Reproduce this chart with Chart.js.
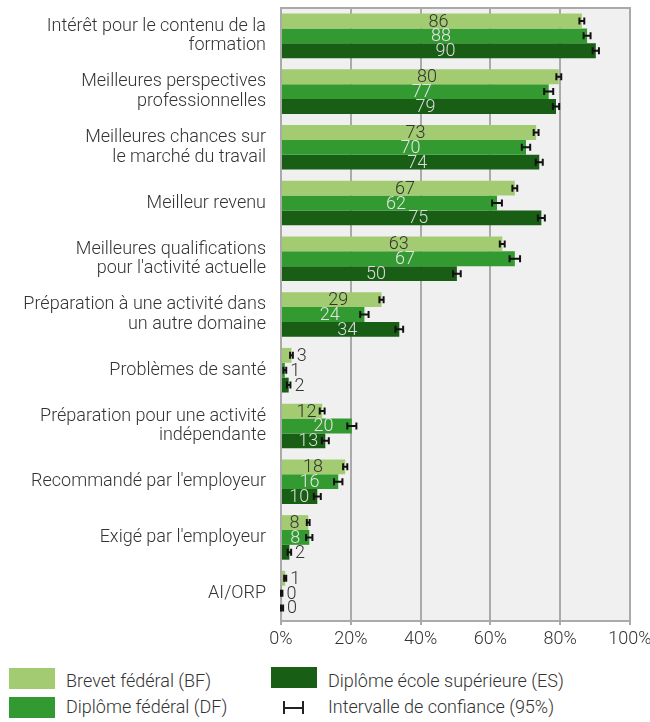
<!DOCTYPE html>
<html>
<head>
<meta charset="utf-8">
<script src="https://cdn.jsdelivr.net/npm/chart.js@4"></script>
<style>
  html, body { margin: 0; padding: 0; background: #fff; }
  #wrap { position: relative; width: 650px; height: 722px; font-family: Roboto, "Noto Sans", sans-serif; font-weight: 300; color: #333; }
  canvas { position: absolute; left: 0; top: 0; }
  .sw { position: absolute; width: 46px; height: 21px; }
  .lt { position: absolute; font-size: 18px; line-height: 21px; white-space: nowrap; }
  .ci { position: absolute; width: 21px; height: 13px; }
  .ci .h { position: absolute; left: 0; right: 0; top: 6px; height: 2px; background: #222; }
  .ci .l, .ci .r { position: absolute; top: 0; width: 2px; height: 13px; background: #222; }
  .ci .l { left: 0; } .ci .r { right: 0; }
</style>
</head>
<body>
<div id="wrap">
  <canvas id="c" width="650" height="660"></canvas>
  <div class="sw" style="left:9px;top:668px;background:#a3cb71"></div>
  <div class="lt" style="left:66px;top:670px">Brevet fédéral (BF)</div>
  <div class="sw" style="left:9px;top:697px;background:#339a32"></div>
  <div class="lt" style="left:66px;top:696px">Diplôme fédéral (DF)</div>
  <div class="sw" style="left:271px;top:667px;background:#185e15"></div>
  <div class="lt" style="left:328px;top:670px">Diplôme école supérieure (ES)</div>
  <div class="ci" style="left:283px;top:701px"><div class="h"></div><div class="l"></div><div class="r"></div></div>
  <div class="lt" style="left:328px;top:696px">Intervalle de confiance (95%)</div>
</div>
<script>
const categories = [
  ["Intérêt pour le contenu de la", "formation"],
  ["Meilleures perspectives", "professionnelles"],
  ["Meilleures chances sur", "le marché du travail"],
  "Meilleur revenu",
  ["Meilleures qualifications", "pour l'activité actuelle"],
  ["Préparation à une activité dans", "un autre domaine"],
  "Problèmes de santé",
  ["Préparation pour une activité", "indépendante"],
  "Recommandé par l'employeur",
  "Exigé par l'employeur",
  "AI/ORP"
];
const seriesNames = ["Brevet fédéral (BF)", "Diplôme fédéral (DF)", "Diplôme école supérieure (ES)"];
const valuesBF = [86.2, 79.6, 73.1, 67.0, 63.4, 28.8, 3.0, 11.8, 18.4, 7.8, 1.2];
const valuesDF = [87.7, 76.7, 70.2, 61.9, 67.0, 23.9, 1.1, 20.3, 16.4, 8.1, 0.2];
const valuesES = [90.2, 78.8, 74.0, 74.6, 50.4, 33.9, 2.2, 12.7, 10.4, 2.4, 0.3];
// half-widths of the 95% confidence intervals (percentage points)
const ciBF = [0.7, 0.7, 0.7, 0.7, 0.7, 0.6, 0.4, 0.7, 0.6, 0.4, 0.3];
const ciDF = [1.0, 1.3, 1.2, 1.4, 1.5, 1.2, 0.4, 1.3, 1.2, 0.9, 0.2];
const ciES = [0.9, 0.9, 1.0, 1.0, 1.1, 1.1, 0.5, 1.0, 1.0, 0.5, 0.3];
const xTicks = [0, 20, 40, 60, 80, 100];

const colors = ["#a3cb71", "#339a32", "#185e15"];
const labelColors = ["#333333", "#e4e4e4", "#dcdcdc"];
const FONT = "Roboto, 'Noto Sans', sans-serif";

const bgPlugin = {
  id: 'bg',
  beforeDraw(chart) {
    const {ctx, chartArea: a} = chart;
    ctx.save();
    ctx.fillStyle = '#f0f0f0';
    ctx.fillRect(a.left, a.top, a.right - a.left, a.bottom - a.top);
    ctx.restore();
  },
  afterDraw(chart) {
    const {ctx, chartArea: a} = chart;
    ctx.save();
    ctx.strokeStyle = '#aaaaaa';
    ctx.lineWidth = 2;
    ctx.beginPath();
    ctx.moveTo(a.left - 1, a.top);
    ctx.lineTo(a.right + 1, a.top);
    ctx.stroke();
    ctx.restore();
  }
};

const cis = [ciBF, ciDF, ciES];
const labelPlugin = {
  id: 'lbl',
  afterDatasetsDraw(chart) {
    const ctx = chart.ctx;
    const xs = chart.scales.x;
    ctx.save();
    ctx.font = "300 18px " + FONT;
    ctx.textBaseline = 'middle';
    chart.data.datasets.forEach((ds, i) => {
      const meta = chart.getDatasetMeta(i);
      meta.data.forEach((bar, j) => {
        const v = ds.data[j];
        const txt = String(Math.round(v));
        const hi = xs.getPixelForValue(v + cis[i][j]);
        if (v < 5) {
          ctx.fillStyle = '#333333';
          ctx.textAlign = 'left';
          ctx.fillText(txt, Math.max(hi, bar.x) + 4, bar.y + 1);
        } else {
          const x0 = xs.getPixelForValue(0);
          const off = v >= 20 ? 7 : (v >= 11 && v < 15 ? 5 : 0);
          ctx.fillStyle = labelColors[i];
          ctx.textAlign = 'center';
          ctx.fillText(txt, (x0 + bar.x) / 2 + off, bar.y + 1);
        }
      });
    });
    // error bars
    ctx.strokeStyle = '#111';
    ctx.lineWidth = 2;
    chart.data.datasets.forEach((ds, i) => {
      const meta = chart.getDatasetMeta(i);
      meta.data.forEach((bar, j) => {
        const v = ds.data[j];
        const lo = xs.getPixelForValue(Math.max(0, v - cis[i][j]));
        const hi = xs.getPixelForValue(v + cis[i][j]);
        const y = bar.y;
        ctx.beginPath();
        ctx.moveTo(lo, y); ctx.lineTo(hi, y);
        ctx.moveTo(lo, y - 3.5); ctx.lineTo(lo, y + 3.5);
        ctx.moveTo(hi, y - 3.5); ctx.lineTo(hi, y + 3.5);
        ctx.stroke();
      });
    });
    ctx.restore();
  }
};

new Chart(document.getElementById('c'), {
  type: 'bar',
  data: {
    labels: categories,
    datasets: [valuesBF, valuesDF, valuesES].map((d, i) => ({
      label: seriesNames[i],
      data: d,
      backgroundColor: colors[i],
      borderWidth: 0,
      categoryPercentage: 0.8,
      barPercentage: 1.0
    }))
  },
  options: {
    indexAxis: 'y',
    responsive: false,
    animation: false,
    layout: { padding: { top: 8, right: 20, left: 0, bottom: 0 } },
    plugins: { legend: { display: false }, tooltip: { enabled: false } },
    scales: {
      x: {
        min: 0, max: 100,
        afterBuildTicks(scale) { scale.ticks = xTicks.map(v => ({ value: v })); },
        afterFit(scale) { scale.height = 39; scale.paddingLeft = 0; scale.paddingRight = 0; },
        ticks: {
          callback: v => v + '%',
          color: '#333',
          font: { family: FONT, size: 18, weight: 300 },
          padding: 4,
          maxRotation: 0
        },
        grid: { color: '#aaaaaa', lineWidth: 2, tickLength: 4, drawTicks: true },
        border: { display: true, color: '#aaaaaa', width: 2 }
      },
      y: {
        afterFit(scale) { scale.width = 281; scale.paddingTop = 0; scale.paddingBottom = 0; },
        ticks: {
          color: '#333',
          font: { family: FONT, size: 18, weight: 300, lineHeight: 1.08 },
          padding: 15
        },
        grid: { display: false, drawTicks: false },
        border: { display: true, color: '#aaaaaa', width: 2 }
      }
    }
  },
  plugins: [bgPlugin, labelPlugin]
});
</script>
</body>
</html>
